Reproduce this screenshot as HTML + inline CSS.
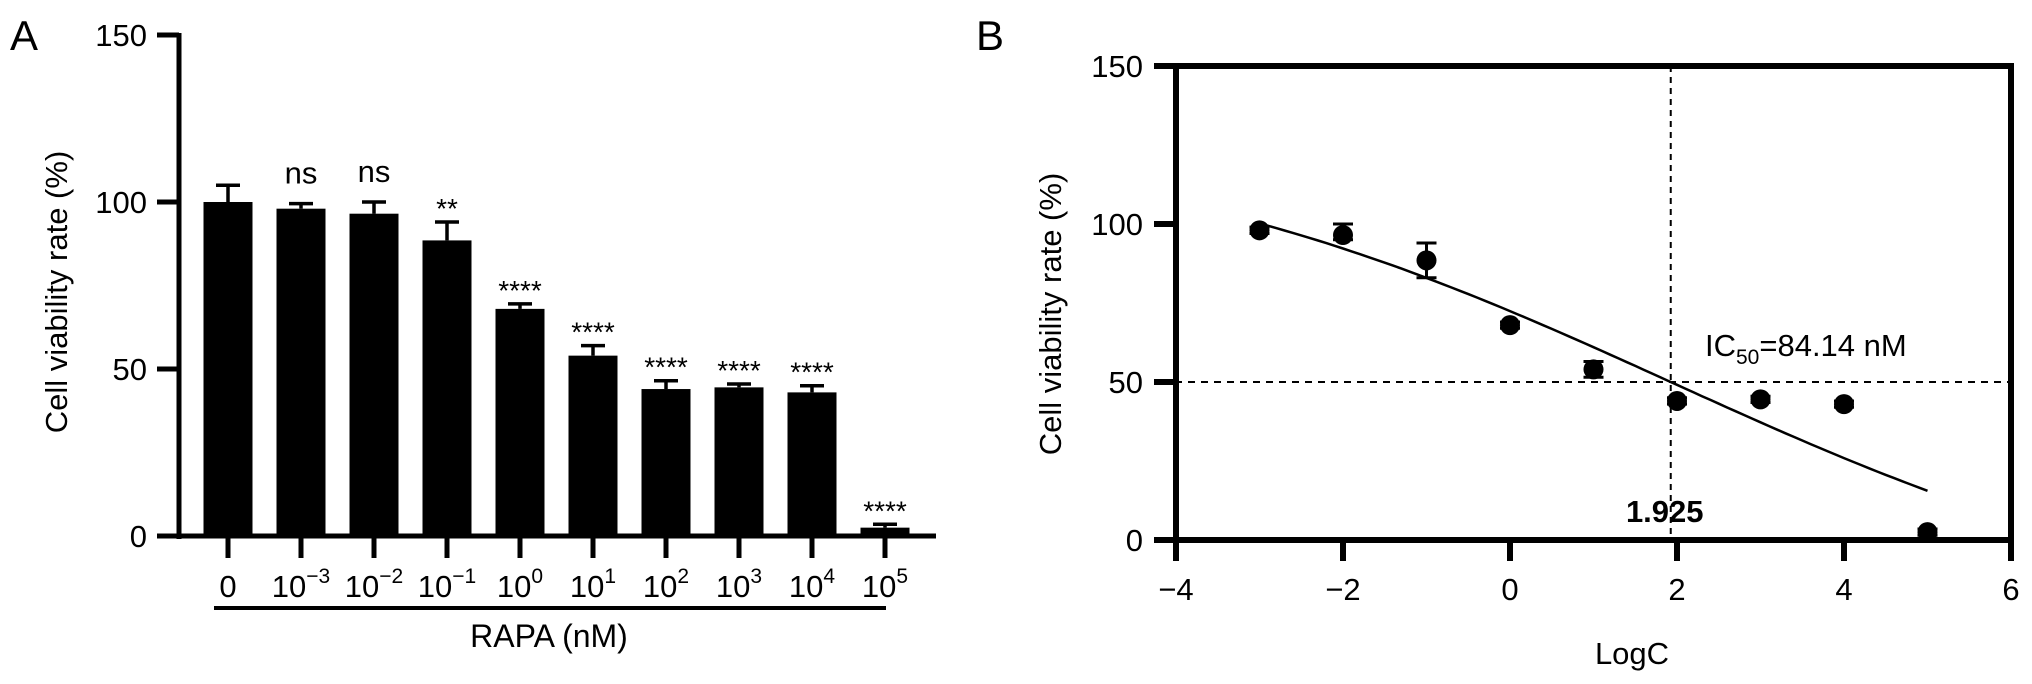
<!DOCTYPE html>
<html><head><meta charset="utf-8"><style>
html,body{margin:0;padding:0;background:#fff;}
svg{display:block;font-family:"Liberation Sans",Arial,sans-serif;}
</style></head><body>
<svg id="chart" width="2032" height="684" viewBox="0 0 2032 684" xmlns="http://www.w3.org/2000/svg">
<g id="pa"></g>
<g id="pb"></g>
</svg>
<script>
// ---------- Panel A data ----------
const aExponents = [null, -3, -2, -1, 0, 1, 2, 3, 4, 5];
const aValues = [100, 98, 96.5, 88.5, 68, 54, 44, 44.5, 43, 2.5];
const aErrors = [5, 1.5, 3.5, 5.5, 1.5, 3, 2.5, 1, 2, 1];
const aSig = ["", "ns", "ns", "**", "****", "****", "****", "****", "****", "****"];
const aYTicks = [0, 50, 100, 150];
// ---------- Panel B data ----------
const bX = [-3, -2, -1, 0, 1, 2, 3, 4, 5];
const bY = [98, 96.5, 88.5, 68, 54, 44, 44.5, 43, 2.5];
const bErrUp = [1, 3.5, 5.5, 1, 2.5, 1, 1, 1, 1];
const bErrDown = [1, 1.5, 5.5, 1, 2.5, 1, 1, 1, 1];
const bXTicks = [-4, -2, 0, 2, 4, 6];
const bYTicks = [0, 50, 100, 150];
const bFit = {top: 130, bottom: -30, logIC50: 1.925, hill: 0.13};
const bFitRange = [-3, 5];
const bIC50Label = "1.925";

const NS = "http://www.w3.org/2000/svg";
function mk(parent, tag, attrs, text) {
  const e = document.createElementNS(NS, tag);
  for (const k in attrs) e.setAttribute(k, attrs[k]);
  if (text !== undefined) e.textContent = text;
  parent.appendChild(e);
  return e;
}
// ---------- Panel A ----------
const pa = document.getElementById('pa');
const ay = v => 536 - v * 3.34;
const ax = i => 228 + i * 73;
let t;
t = mk(pa, 'text', {x: 10, y: 50, 'font-size': 42}, 'A');
 
t = mk(pa, 'line', {x1: 179, y1: 33, x2: 179, y2: 539, stroke: '#000', 'stroke-width': 5});
 
t = mk(pa, 'line', {x1: 157, y1: 536, x2: 936, y2: 536, stroke: '#000', 'stroke-width': 5});
 
aYTicks.forEach(v => {
  const tk = mk(pa, 'line', {x1: 157, y1: ay(v), x2: 179, y2: ay(v), stroke: '#000', 'stroke-width': 5});
   
  const lb = mk(pa, 'text', {x: 147, y: ay(v) + 11, 'font-size': 31, 'text-anchor': 'end'}, String(v));
   
});
t = mk(pa, 'text', {x: 0, y: 0, 'font-size': 31, 'text-anchor': 'middle', transform: 'translate(67,292) rotate(-90)'}, 'Cell viability rate (%)');
 
aValues.forEach((v, i) => {
  const cx = ax(i);
  const b = mk(pa, 'rect', {x: cx - 24.5, y: ay(v), width: 49, height: 536 - ay(v), fill: '#000'});
   
  const et = ay(v + aErrors[i]);
  const e = mk(pa, 'path', {d: `M${cx} ${ay(v)}V${et}M${cx-12} ${et}H${cx+12}`, stroke: '#000', 'stroke-width': 3.5, fill: 'none'});
   
  if (aSig[i]) {
    const isNs = aSig[i] === 'ns';
    const s = mk(pa, 'text', {x: cx, y: isNs ? et - 20 : et - 4, 'font-size': isNs ? 31 : 28, 'text-anchor': 'middle'}, aSig[i]);
     
  }
  const tk = mk(pa, 'line', {x1: cx, y1: 536, x2: cx, y2: 558, stroke: '#000', 'stroke-width': 5});
   
  const lb = mk(pa, 'text', {x: cx, y: 597, 'font-size': 31, 'text-anchor': 'middle'});
   
  if (aExponents[i] === null) { lb.textContent = '0'; }
  else {
    mk(lb, 'tspan', {}, '10');
    const ex = aExponents[i] < 0 ? '\u2212' + (-aExponents[i]) : String(aExponents[i]);
    mk(lb, 'tspan', {'font-size': 21, dy: -14}, ex);
  }
});
t = mk(pa, 'line', {x1: 214, y1: 608, x2: 886, y2: 608, stroke: '#000', 'stroke-width': 4});
 
t = mk(pa, 'text', {x: 549, y: 647, 'font-size': 32, 'text-anchor': 'middle'}, 'RAPA (nM)');
 

// ---------- Panel B ----------
const pb = document.getElementById('pb');
const bx = v => 1176 + (v + 4) * 83.5;
const by = v => 540 - v * 3.16;
t = mk(pb, 'text', {x: 976, y: 50, 'font-size': 42}, 'B');
 
t = mk(pb, 'line', {x1: 1175, y1: by(50), x2: 2011, y2: by(50), stroke: '#000', 'stroke-width': 2, 'stroke-dasharray': '7 6'});
 
t = mk(pb, 'line', {x1: bx(1.925), y1: by(150), x2: bx(1.925), y2: 540, stroke: '#000', 'stroke-width': 2, 'stroke-dasharray': '6 5'});
 
t = mk(pb, 'rect', {x: 1176, y: by(150), width: bx(6) - 1176, height: 540 - by(150), fill: 'none', stroke: '#000', 'stroke-width': 6});
 
bYTicks.forEach(v => {
  const tk = mk(pb, 'line', {x1: 1154, y1: by(v), x2: 1176, y2: by(v), stroke: '#000', 'stroke-width': 6});
   
  const lb = mk(pb, 'text', {x: 1143, y: by(v) + 11, 'font-size': 31, 'text-anchor': 'end'}, String(v));
   
});
bXTicks.forEach(v => {
  const tk = mk(pb, 'line', {x1: bx(v), y1: 540, x2: bx(v), y2: 561, stroke: '#000', 'stroke-width': 6});
   
  const lb = mk(pb, 'text', {x: bx(v), y: 600, 'font-size': 31, 'text-anchor': 'middle'}, v < 0 ? '\u2212' + (-v) : String(v));
   
});
t = mk(pb, 'text', {x: 0, y: 0, 'font-size': 31, 'text-anchor': 'middle', transform: 'translate(1061,314) rotate(-90)'}, 'Cell viability rate (%)');
 
t = mk(pb, 'text', {x: 1632, y: 664, 'font-size': 31, 'text-anchor': 'middle'}, 'LogC');
 
// fit curve
const fit = x => bFit.bottom + (bFit.top - bFit.bottom) / (1 + Math.pow(10, (x - bFit.logIC50) * bFit.hill));
let d = '';
for (let k = 0; k <= 80; k++) {
  const x = bFitRange[0] + (bFitRange[1] - bFitRange[0]) * k / 80;
  d += (k ? 'L' : 'M') + bx(x).toFixed(1) + ' ' + by(fit(x)).toFixed(1);
}
t = mk(pb, 'path', {d: d, stroke: '#000', 'stroke-width': 2.5, fill: 'none'});
 
bX.forEach((x, i) => {
  const cx = bx(x), cy = by(bY[i]);
  const up = by(bY[i] + bErrUp[i]), dn = by(bY[i] - bErrDown[i]);
  const e = mk(pb, 'path', {d: `M${cx} ${up}V${dn}M${cx-10} ${up}H${cx+10}M${cx-10} ${dn}H${cx+10}`, stroke: '#000', 'stroke-width': 3, fill: 'none'});
   
  const p = mk(pb, 'circle', {cx: cx, cy: cy, r: 10, fill: '#000'});
   
});
t = mk(pb, 'text', {x: bx(1.925) - 6, y: 522, 'font-size': 31, 'font-weight': 'bold', 'text-anchor': 'middle'}, bIC50Label);
 
t = mk(pb, 'text', {x: 1705, y: 356, 'font-size': 31});
 
mk(t, 'tspan', {}, 'IC');
mk(t, 'tspan', {'font-size': 21, dy: 8}, '50');
mk(t, 'tspan', {dy: -8}, '=84.14 nM');
</script>
</body></html>
